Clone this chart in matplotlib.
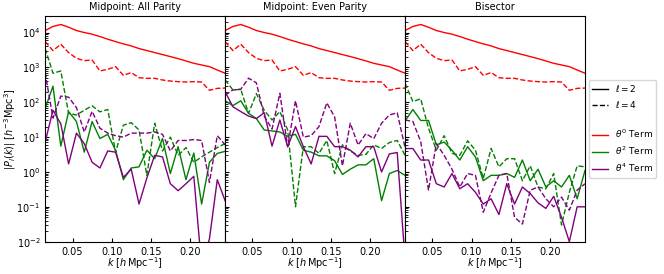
import matplotlib
matplotlib.use("Agg")
import matplotlib.pyplot as plt
from matplotlib.lines import Line2D

k = [0.015, 0.025, 0.035, 0.045, 0.055, 0.065, 0.075, 0.085, 0.095, 0.105, 0.115, 0.125,
     0.135, 0.145, 0.155, 0.165, 0.175, 0.185, 0.195, 0.205, 0.215, 0.225, 0.235, 0.245]

titles = ["Midpoint: All Parity", "Midpoint: Even Parity", "Bisector"]

# theta^0 term (same in all panels)
t0_l2 = [11400, 14900, 17000, 14200, 11400, 10000, 8960, 7670, 6430, 5500, 4720, 4130,
         3460, 3040, 2660, 2330, 2040, 1780, 1530, 1310, 1170, 1050, 840, 680]
t0_l4 = [5500, 3030, 4620, 2650, 1820, 1560, 1630, 790, 880, 1050, 590, 710,
         505, 485, 485, 435, 405, 390, 380, 390, 380, 220, 250, 255]

# Panel 1: Midpoint, all parity
t2_l2_all = [66, 290, 5.5, 54, 28, 3.7, 28, 9.1, 12, 4.2, 0.6, 1.3,
             1.4, 4.2, 2.4, 9.1, 0.9, 5.3, 0.6, 3.5, 0.12, 1.9, 3.4, 3.9]
t2_l4_all = [3500, 680, 790, 48, 43, 59, 79, 53, 62, 3.7, 22, 26,
             16, 0.8, 25, 4, 10, 3.0, 5, 1.9, 2.7, 3.7, 5, 6.5]
t4_l2_all = [7.2, 59, 24, 1.7, 13, 6.5, 1.9, 1.3, 4, 3.7, 0.7, 1.2,
             0.12, 0.67, 3.0, 2.7, 0.46, 0.29, 0.46, 0.75, 0.002, 0.012, 0.6, 0.15]
t4_l4_all = [700, 35, 150, 140, 70, 14, 55, 18, 13, 11, 10, 13,
             13, 13, 14, 12, 4, 8, 8, 8.5, 8, 0.5, 11, 6]

# Panel 2: Midpoint, even parity
t2_l2_even = [110, 80, 110, 48, 34, 16, 15, 14, 10.5, 12, 4.2, 3.7,
              2.9, 2.9, 2.1, 0.85, 1.2, 1.6, 1.6, 2.4, 0.15, 0.9, 1.1, 0.8]
t2_l4_even = [440, 225, 235, 48, 177, 59, 31, 54, 16, 0.1, 5.3, 5.3,
              3.4, 8, 0.9, 6, 4, 3, 3.2, 6, 4.7, 7, 8, 3]
t4_l2_even = [200, 74, 54, 40, 34, 50, 5.5, 31, 5.3, 20, 5.3, 1.7,
              10.5, 10.5, 5.3, 5.3, 4.2, 2.7, 5.3, 5.3, 1.0, 3.3, 3.6, 0.003]
t4_l4_even = [160, 225, 235, 490, 360, 40, 17, 180, 5.3, 110, 10, 11,
              20, 96, 38, 1.5, 25, 5.9, 12.6, 9, 25, 43, 50, 5]

# Panel 3: Bisector
t2_l2_bis = [29, 62, 30, 30, 6, 7.2, 4.2, 2.2, 5.3, 2.7, 0.56, 0.8,
             0.8, 0.9, 0.7, 2.2, 0.56, 1.2, 0.37, 0.56, 0.37, 0.8, 0.17, 1.1]
t2_l4_bis = [350, 105, 125, 18, 4.2, 11, 3.4, 3.0, 7.8, 4.2, 0.65, 4.7,
             1.4, 2.4, 2.4, 0.56, 1.5, 0.37, 0.33, 0.9, 0.03, 0.26, 1.5, 1.4]
t4_l2_bis = [4.7, 4.7, 2.2, 2.2, 0.46, 0.37, 0.9, 0.33, 0.46, 0.26, 0.12, 0.17,
             0.06, 0.46, 0.12, 0.37, 0.24, 0.13, 0.09, 0.2, 0.05, 0.01, 0.1, 0.1]
t4_l4_bis = [31, 28, 7.5, 0.3, 6.5, 3.0, 1.2, 0.37, 0.9, 0.8, 0.07, 0.25,
             0.8, 0.9, 0.05, 0.032, 0.3, 0.37, 0.17, 0.1, 0.19, 0.08, 0.3, 0.46]

panels = [
    (t2_l2_all, t2_l4_all, t4_l2_all, t4_l4_all),
    (t2_l2_even, t2_l4_even, t4_l2_even, t4_l4_even),
    (t2_l2_bis, t2_l4_bis, t4_l2_bis, t4_l4_bis),
]

FS = 7
lw = 1.0
fig, axes = plt.subplots(1, 3, figsize=(6.64, 2.74), dpi=100, sharey=True)
fig.subplots_adjust(left=0.068, right=0.881, top=0.942, bottom=0.118, wspace=0)

for ax, title, (a, b, c, d) in zip(axes, titles, panels):
    ax.plot(k, t0_l2, color="red", lw=lw)
    ax.plot(k, t0_l4, color="red", lw=lw, ls="--")
    ax.plot(k, a, color="green", lw=lw)
    ax.plot(k, b, color="green", lw=lw, ls="--")
    ax.plot(k, c, color="purple", lw=lw)
    ax.plot(k, d, color="purple", lw=lw, ls="--")
    ax.set_yscale("log")
    ax.set_ylim(1e-2, 3e4)
    ax.set_xlim(k[0], k[-1])
    ax.set_xticks([0.05, 0.10, 0.15, 0.20])
    ax.set_title(title, fontsize=FS, pad=4)
    ax.set_xlabel(r"$k$ [$h\,\mathrm{Mpc}^{-1}$]", fontsize=FS, labelpad=-1)
    ax.tick_params(which="both", direction="in", labelsize=FS, pad=3.5)
    ax.tick_params(which="major", length=3)
    ax.tick_params(which="minor", length=1.8)

axes[0].set_ylabel(r"$|P_l(k)|$ [$h^{-3}\mathrm{Mpc}^3$]", fontsize=FS, labelpad=-1)

handles = [
    Line2D([], [], color="black", lw=lw, label=r"$\ell=2$"),
    Line2D([], [], color="black", lw=lw, ls="--", label=r"$\ell=4$"),
    Line2D([], [], color="none", label=" "),
    Line2D([], [], color="red", lw=lw, label=r"$\theta^0$ Term"),
    Line2D([], [], color="green", lw=lw, label=r"$\theta^2$ Term"),
    Line2D([], [], color="purple", lw=lw, label=r"$\theta^4$ Term"),
]
axes[2].legend(handles=handles, loc="center left", bbox_to_anchor=(1.0, 0.5),
               fontsize=6.5, borderaxespad=0.4, handlelength=1.8, handletextpad=0.7,
               labelspacing=0.5)

fig.savefig("out.png", dpi=100)
